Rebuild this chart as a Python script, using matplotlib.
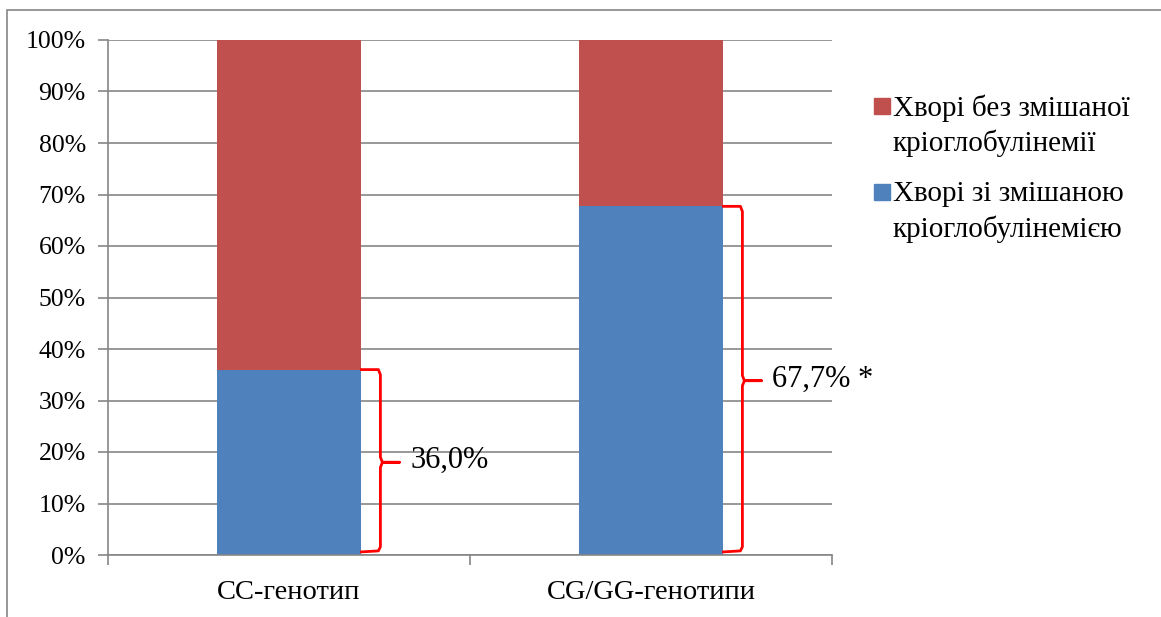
import matplotlib.pyplot as plt
from matplotlib.patches import Rectangle

plt.rcParams['font.family'] = ['Liberation Serif', 'DejaVu Serif']

categories = ['CC-генотип', 'CG/GG-генотипи']
with_cryo = [36.0, 67.7]
without_cryo = [64.0, 32.3]
labels = ['36,0%', '67,7% *']
series_names = [['Хворі без змішаної', 'кріоглобулінемії'],
                ['Хворі зі змішаною', 'кріоглобулінемією']]

blue = '#4F81BD'
red = '#C0504D'
grid_c = '#868686'

W, H = 1161, 617
fig = plt.figure(figsize=(W / 100, H / 100), dpi=100)
ax = fig.add_axes([108 / W, 1 - 555 / H, (832 - 108) / W, (555 - 40) / H])

x = list(range(len(categories)))
width = 0.4
ax.bar(x, with_cryo, width, color=blue, zorder=2)
ax.bar(x, without_cryo, width, bottom=with_cryo, color=red, zorder=2)

ax.set_xlim(-0.5, len(categories) - 0.5)
ax.set_ylim(0, 100)
ax.set_yticks(range(0, 101, 10))
ax.set_yticklabels([f'{v}%' for v in range(0, 101, 10)], fontsize=18.5)
ax.set_xticks(x)
ax.set_xticklabels(categories, fontsize=20.5)
ax.tick_params(axis='x', length=0, pad=18)
ax.set_xticks([-0.5, 0.5, 1.5], minor=True)
ax.tick_params(axis='x', which='minor', length=7, color=grid_c, width=1.2)
ax.tick_params(axis='y', length=7, color=grid_c, width=1.2, pad=9)
ax.yaxis.grid(True, color=grid_c, linewidth=1.2, zorder=0)
ax.set_axisbelow(True)
for s in ['top', 'right']:
    ax.spines[s].set_visible(False)
for s in ['left', 'bottom']:
    ax.spines[s].set_color(grid_c)
    ax.spines[s].set_linewidth(1.2)

# curly braces beside the blue segments
px = 1 / 362
for i, v in enumerate(with_cryo):
    xe = i + width / 2
    xv = xe + 19 * px
    xt = xe + 38 * px
    mid = v / 2
    r = 1.0
    bx = [xe, xv - 2 * px, xv, xv, xv + 2 * px, xt, xv + 2 * px, xv, xv, xv - 2 * px, xe]
    by = [0.6, 0.8, 0.6 + r, mid - r, mid, mid, mid, mid + r, v - r, v, v]
    ax.plot(bx, by, color='red', linewidth=2, zorder=3, clip_on=False)
    ax.text(xt + 11 * px, mid + 0.3, labels[i], fontsize=22, va='center', ha='left')

# legend: square next to the first line of each two-line label
for (line1, line2), col, yc in zip(series_names, [red, blue], [106, 192]):
    fig.add_artist(Rectangle((874 / W, 1 - (yc + 8) / H), 16 / W, 16 / H,
                             transform=fig.transFigure, color=col))
    fig.text(893 / W, 1 - (yc + 2) / H, line1, fontsize=21, va='center', ha='left')
    fig.text(893 / W, 1 - (yc + 37) / H, line2, fontsize=21, va='center', ha='left')

fig.add_artist(Rectangle((7 / W, -0.05), 1.2, 1 - 10 / H + 0.05,
                         transform=fig.transFigure, fill=False,
                         edgecolor=grid_c, linewidth=1.2))

fig.savefig('out.png', dpi=100)
